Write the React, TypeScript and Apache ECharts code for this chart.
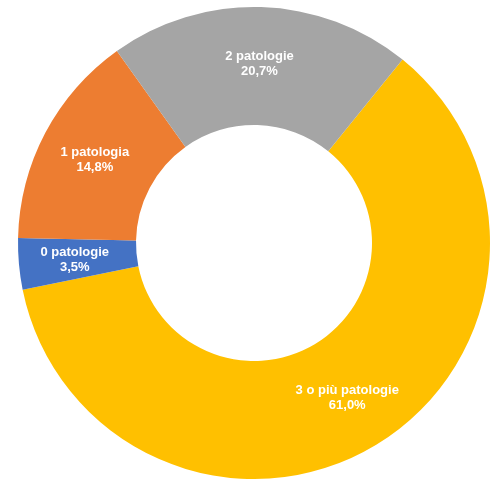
import React, { useEffect, useRef } from "react";
import * as echarts from "echarts";

const categories = ["3 o più patologie", "0 patologie", "1 patologia", "2 patologie"];
const values = [61.0, 3.5, 14.8, 20.7];
const colors = ["#FFC000", "#4472C4", "#ED7D31", "#A5A5A5"];

export default function App() {
  const ref = useRef<HTMLDivElement>(null);

  useEffect(() => {
    if (!ref.current) return;
    const chart = echarts.init(ref.current, undefined, { renderer: "svg" });
    chart.setOption({
      animation: false,
      series: [
        {
          type: "pie",
          center: [254, 243],
          radius: [118, 236],
          startAngle: 51,
          clockwise: true,
          data: categories.map((name, i) => ({
            name,
            value: values[i],
            itemStyle: { color: colors[i] },
          })),
          label: {
            position: "inside",
            color: "#fff",
            fontFamily: "Liberation Sans, Arial, sans-serif",
            fontWeight: "bold",
            fontSize: 13,
            lineHeight: 15,
            formatter: (p: any) =>
              `${p.name}\n${p.value.toFixed(1).replace(".", ",")}%`,
          },
          labelLine: { show: false },
          emphasis: { disabled: true },
        },
      ],
    });
    return () => chart.dispose();
  }, []);

  return (
    <div
      ref={ref}
      style={{ position: "fixed", left: 0, top: 0, width: 492, height: 479 }}
    />
  );
}
